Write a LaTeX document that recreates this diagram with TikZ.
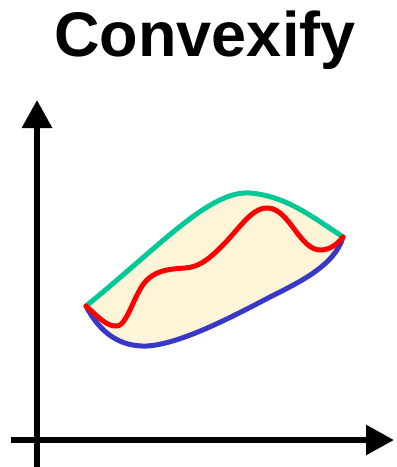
\documentclass[tikz,border=0pt]{standalone}
\usepackage{fontspec}
\setmainfont{Liberation Sans}
\usetikzlibrary{arrows.meta}
\definecolor{cgreen}{HTML}{00C896}
\definecolor{cblue}{HTML}{3838C8}
\definecolor{cfill}{HTML}{FEF4D8}
\definecolor{cred}{HTML}{FF0000}
\tikzset{
  axis/.style={line width=6pt, -{Triangle[length=28pt,width=29pt]}},
  curve/.style={line width=5pt, line cap=round, line join=round},
}
\begin{document}
\begin{tikzpicture}[x=1pt,y=-1pt]
\useasboundingbox (0,0) rectangle (397,467);
\node[font=\bfseries\fontsize{63}{63}\selectfont, anchor=base] (title) at (205,56) {Convexify};
\coordinate (L) at (86,306);
\coordinate (R) at (343,237);
\coordinate (ybot) at (37,467);
\coordinate (ytop) at (37,100);
\coordinate (xleft) at (11,440);
\coordinate (xright) at (394,440);
% fill
\fill[cfill] (L) .. controls (160,246) and (210,190) .. (250,193)
  .. controls (285,196) and (310,215) .. (R)
  .. controls (335,265) and (300,282) .. (270,297)
  .. controls (230,318) and (180,344) .. (147,346)
  .. controls (120,347) and (100,333) .. (L) -- cycle;
% blue lower
\draw[curve, cblue] (L) .. controls (100,333) and (120,347) .. (147,346)
  .. controls (180,344) and (230,318) .. (270,297)
  .. controls (300,282) and (335,265) .. (R);
% green upper
\draw[curve, cgreen, line cap=butt] (L) .. controls (160,246) and (210,190) .. (250,193)
  .. controls (285,196) and (310,215) .. (R);
% red
\draw[curve, cred] (L) .. controls (97,316) and (107,327) .. (117,326)
  .. controls (128,325) and (135,290) .. (148,279)
  .. controls (158,270) and (170,269) .. (185,268)
  .. controls (200,267) and (210,258) .. (222,246)
  .. controls (240,228) and (252,207) .. (268,208)
  .. controls (290,209) and (300,252) .. (322,250)
  .. controls (332,249) and (338,243) .. (R);
% axes
\draw[axis] (ybot) -- (ytop);
\draw[axis] (xleft) -- (xright);
\end{tikzpicture}
\end{document}
